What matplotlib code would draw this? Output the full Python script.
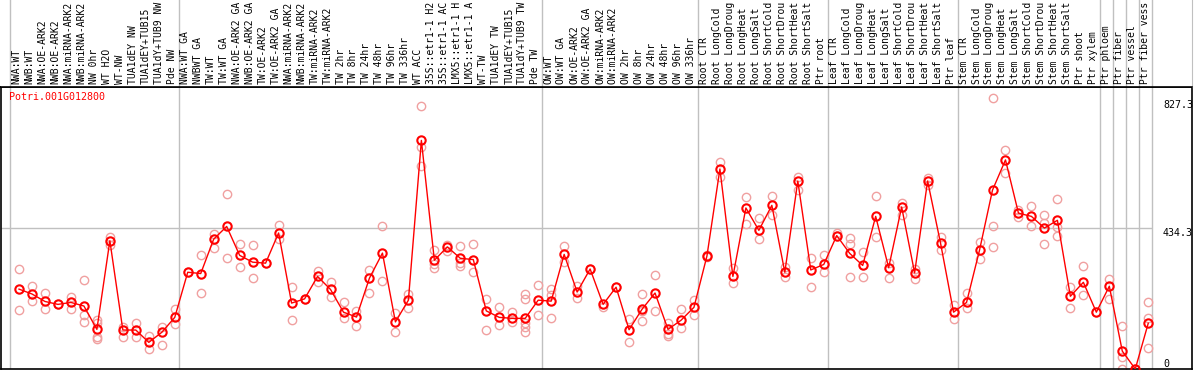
import numpy as np
import matplotlib
matplotlib.use("Agg")
import matplotlib.pyplot as plt

matplotlib.rcParams['font.family'] = "DejaVu Sans Mono"

# sample names (header), one column each
samples = [
    "NWA:WT", "NWB:WT", "NWA:OE-ARK2", "NWB:OE-ARK2", "NWA:miRNA-ARK2", "NWB:miRNA-ARK2",
    "NW 0hr", "WT H2O", "WT-NW", "TUA1dEY NW", "TUA1dEY+TUB15", "TUA1dY+TUB9 NW", "Pde NW",
    "NWA:WT GA", "NWBWT GA", "TW:WT", "TW:WT GA", "NWA:OE-ARK2 GA", "NWB:OE-ARK2 GA",
    "TW:OE-ARK2", "TW:OE-ARK2 GA", "NWA:miRNA-ARK2 GA", "NWB:miRNA-ARK2 GA", "TW:miRNA-ARK2",
    "TW:miRNA-ARK2 GA", "TW 2hr", "TW 8hr", "TW 24hr", "TW 48hr", "TW 96hr", "TW 336hr",
    "WT ACC", "35S::etr1-1 H2O", "35S::etr1-1 ACC", "LMX5::etr1-1 H2O", "LMX5::etr1-1 ACC",
    "WT-TW", "TUA1dEY TW", "TUA1dEY+TUB15", "TUA1dY+TUB9 TW", "Pde TW",
    "OW:WT", "OW:WT GA", "OW:OE-ARK2", "OW:OE-ARK2 GA", "OW:miRNA-ARK2", "OW:miRNA-ARK2 GA",
    "OW 2hr", "OW 8hr", "OW 24hr", "OW 48hr", "OW 96hr", "OW 336hr",
    "Root CTR", "Root LongCold", "Root LongDrought", "Root LongHeat", "Root LongSalt",
    "Root ShortCold", "Root ShortDrought", "Root ShortHeat", "Root ShortSalt", "Ptr root",
    "Leaf CTR", "Leaf LongCold", "Leaf LongDrought", "Leaf LongHeat", "Leaf LongSalt",
    "Leaf ShortCold", "Leaf ShortDrought", "Leaf ShortHeat", "Leaf ShortSalt", "Ptr leaf",
    "Stem CTR", "Stem LongCold", "Stem LongDrought", "Stem LongHeat", "Stem LongSalt",
    "Stem ShortCold", "Stem ShortDrought", "Stem ShortHeat", "Stem ShortSalt", "Ptr shoot",
    "Ptr xylem", "Ptr phloem", "Ptr fiber", "Ptr vessel", "Ptr fiber vessel",
]

# first column of each group (separator lines)
group_starts = [0, 13, 41, 53, 63, 73, 84, 85, 86, 87, 88]

means = [
    246, 231, 208, 199, 205, 194, 122, 395, 120, 120, 82, 113, 159,
    298, 294, 400, 439, 350, 329, 326, 419, 203, 216, 285, 245, 175, 160, 280, 357, 145,
    212, 704, 335, 376, 341, 337, 179, 159, 156, 156, 212,
    209, 353, 237, 308, 199, 252, 121, 184, 234, 122, 150, 190,
    348, 616, 285, 496, 427, 504, 298, 579, 305, 322,
    411, 356, 319, 470, 312, 499, 296, 579, 387, 175,
    205, 366, 551, 644, 480, 470, 434, 458, 224, 267, 175,
    255, 55, 0, 141,
]

reps = [
    [307, 182], [256, 209], [234, 185], [199], [221, 185], [273, 165, 145],
    [151, 141, 100, 91], [407, 381], [130, 98], [143, 100], [102, 61], [130, 73], [185, 138],
    [298], [350, 234], [416, 373], [538, 342], [384, 314], [382, 279], [326], [443, 400],
    [252, 151], [216], [302, 268], [268, 221], [206, 157], [178, 131], [305, 234], [440, 271],
    [173, 113], [231, 189], [810, 683, 624], [366, 323, 312], [381, 363], [379, 325, 318],
    [385, 299], [216, 120], [190, 135], [176, 144], [230, 215, 141, 128, 115], [259, 166],
    [246, 156, 229], [379, 330], [255, 220], [308], [192], [252], [153, 82],
    [231, 178, 147], [289, 178], [141, 107, 103], [185, 125], [213, 167],
    [344, 352], [638, 590], [310, 264], [530, 447], [464, 400], [533, 474], [313, 284],
    [592, 551], [341, 252], [350, 298],
    [420, 410], [402, 384, 283], [359, 283], [532, 407], [326, 279], [510, 474], [308, 278],
    [589, 567], [406, 367], [196, 154],
    [233, 187], [390, 339], [834, 439, 375], [674, 603], [491, 469], [501, 439],
    [473, 449, 385], [524, 438, 411], [252, 187], [317, 227], [175],
    [277, 215], [131, 36, 0], [0], [206, 156, 65],
]

gene = "Potri.001G012800"
ytick_vals = [827.3, 434.3, 0]
ytick_text = ["827.3", "434.3", "0"]

W, H = 1194, 370
x0, x1, ytop, ybot = 1, 1192, 87, 369
pitch = 12.98
yscale = 0.3247  # pixels per unit
maxchars = 14     # header is only this tall


def px2i(px):
    return (px - 19) / pitch


fig = plt.figure(figsize=(W / 100, H / 100), dpi=100)
ax = fig.add_axes([x0 / W, (H - ybot) / H, (x1 - x0) / W, (ybot - ytop) / H])
hd = fig.add_axes([x0 / W, (H - ytop) / H, (x1 - x0) / W, ytop / H])

xlim = (px2i(x0), px2i(x1))
for a in (ax, hd):
    a.set_xlim(*xlim)
    a.set_xticks([])
    a.set_yticks([])
ax.set_ylim(0, (ybot - ytop) / yscale)
hd.set_ylim(0, ytop)

for s in ax.spines.values():
    s.set_color("black")
    s.set_linewidth(1.2)
for k in ("left", "top"):
    hd.spines[k].set_visible(False)
hd.spines["right"].set_color("#c0c0c0")
hd.spines["bottom"].set_linewidth(1.2)

seps = [b - 9 / pitch for b in group_starts]
for a in (ax, hd):
    for sx in seps:
        a.axvline(sx, color="#c0c0c0", lw=1, zorder=0)
ax.hlines(434.3, xlim[0], seps[-1], color="#c0c0c0", lw=1, zorder=0)

x = np.arange(len(means))
rx = [i for i, r in enumerate(reps) for _ in r]
ry = [v for r in reps for v in r]
ax.plot(rx, ry, "o", ms=6, mfc="none", mec="#f0a0a0", mew=1.0, zorder=2)
ax.plot(x, means, "-", color="red", lw=1, zorder=3)
ax.plot(x, means, "o", ms=6, mfc="none", mec="red", mew=1.5, zorder=4)

for i, name in enumerate(samples):
    hd.text(i - 3 / pitch, 2.5, name[:maxchars], rotation=90, ha="center", va="bottom",
            fontsize=7.0, color="black")

ax.text(px2i(9), (ybot - 97) / yscale, gene, color="red", fontsize=7.2,
        ha="left", va="center")

for v, t in zip(ytick_vals, ytick_text):
    ax.text(px2i(1163), v, t, fontsize=7.2, ha="left",
            va="bottom" if v == 0 else "top", color="black")

fig.savefig("out.png", dpi=100)
